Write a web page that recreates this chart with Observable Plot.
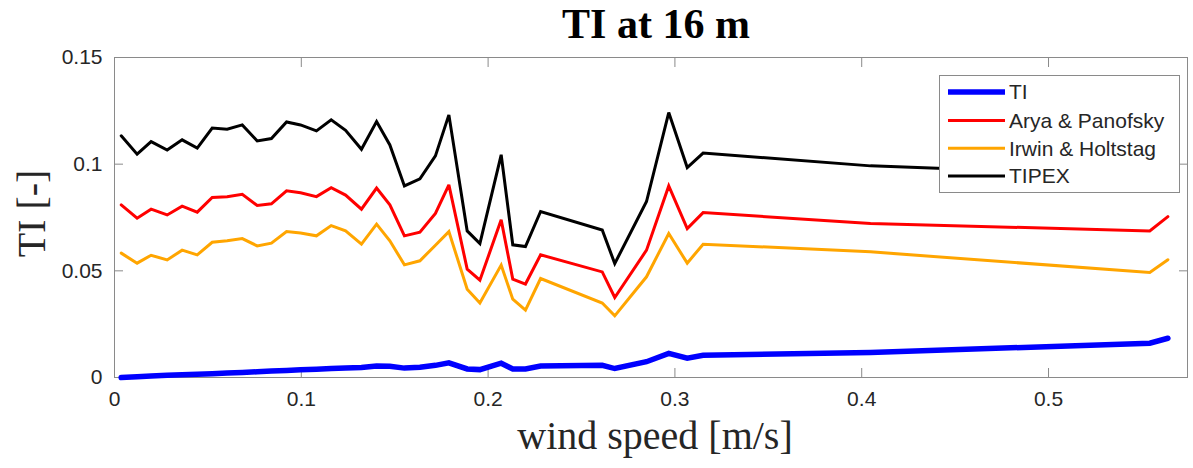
<!DOCTYPE html>
<html>
<head>
<meta charset="utf-8">
<script src="https://cdn.jsdelivr.net/npm/d3@7"></script>
<script src="https://cdn.jsdelivr.net/npm/@observablehq/plot@0.6"></script>
<style>
  body { margin: 0; background: #fff; }
  #chart svg { display: block; }
</style>
</head>
<body>
<div id="chart"></div>
<script>
const titleText = "TI at 16 m";
const xLabelText = "wind speed [m/s]";
const yLabelText = "TI [-]";

const xTicks = [0, 0.1, 0.2, 0.3, 0.4, 0.5];
const yTicks = [0, 0.05, 0.1, 0.15];

const windSpeed = [0.0036,0.0121,0.0196,0.0282,0.0362,0.0443,0.0523,0.0603,0.0684,0.0764,0.0840,0.0921,0.0996,0.1081,0.1160,0.1237,0.1322,0.1403,0.1474,0.1552,0.1635,0.1718,0.1790,0.1888,0.1956,0.2070,0.2132,0.2200,0.2281,0.2611,0.2678,0.2848,0.2967,0.3066,0.3151,0.4047,0.5542,0.5639];

const tiValues = [0.0000,0.0004,0.0007,0.0010,0.0013,0.0015,0.0018,0.0021,0.0024,0.0027,0.0030,0.0033,0.0036,0.0039,0.0042,0.0044,0.0047,0.0054,0.0053,0.0044,0.0048,0.0057,0.0069,0.0040,0.0037,0.0067,0.0040,0.0040,0.0054,0.0057,0.0042,0.0074,0.0113,0.0091,0.0104,0.0117,0.0161,0.0184];

const aryaValues = [0.0809,0.0747,0.0789,0.0762,0.0803,0.0775,0.0844,0.0847,0.0859,0.0806,0.0814,0.0875,0.0866,0.0848,0.0890,0.0855,0.0789,0.0888,0.0809,0.0664,0.0681,0.0769,0.0903,0.0508,0.0456,0.0739,0.0461,0.0438,0.0575,0.0495,0.0375,0.0597,0.0898,0.0698,0.0773,0.0722,0.0687,0.0754];

const irwinValues = [0.0583,0.0536,0.0573,0.0551,0.0597,0.0575,0.0634,0.0641,0.0651,0.0617,0.0630,0.0684,0.0677,0.0664,0.0712,0.0687,0.0625,0.0719,0.0641,0.0528,0.0547,0.0620,0.0684,0.0414,0.0349,0.0527,0.0367,0.0316,0.0464,0.0349,0.0289,0.0472,0.0675,0.0536,0.0625,0.0589,0.0492,0.0552];

const tipexValues = [0.1133,0.1047,0.1106,0.1066,0.1114,0.1075,0.1169,0.1164,0.1184,0.1109,0.1120,0.1198,0.1184,0.1156,0.1208,0.1159,0.1070,0.1200,0.1090,0.0898,0.0931,0.1039,0.1231,0.0687,0.0628,0.1044,0.0622,0.0614,0.0778,0.0691,0.0534,0.0825,0.1242,0.0984,0.1052,0.0992,0.0944,0.1036];

const seriesNames = ["TI", "Arya & Panofsky", "Irwin & Holtstag", "TIPEX"];
const seriesColors = ["#0000ff", "#ff0000", "#ffa500", "#000000"];
const seriesWidths = [5.5, 3, 3, 3];
const seriesValues = [tiValues, aryaValues, irwinValues, tipexValues];

const axisGray = "#8a8a8a";
const textDark = "#262626";
const serif = "'Liberation Serif', 'Times New Roman', serif";
const sans = "'Liberation Sans', Arial, sans-serif";

const lineMarks = seriesNames.map((name, i) => {
  const rows = windSpeed.map((s, j) => ({speed: s, value: seriesValues[i][j], series: name}));
  return Plot.line(rows, {x: "speed", y: "value", stroke: seriesColors[i], strokeWidth: seriesWidths[i], strokeLinejoin: "miter", strokeMiterlimit: 3});
});

const fmt = d => String(d);

const chart = Plot.plot({
  width: 1193,
  height: 468,
  marginLeft: 114,
  marginRight: 6,
  marginTop: 57,
  marginBottom: 91,
  style: {fontFamily: sans, background: "white", overflow: "visible"},
  x: {domain: [0, 0.5744]},
  y: {domain: [0, 0.15]},
  marks: [
    Plot.frame({stroke: axisGray}),
    Plot.axisX(xTicks, {anchor: "bottom", tickSize: 0, tickPadding: 14, tickFormat: fmt, fontSize: 21, color: textDark, label: null}),
    Plot.axisX(xTicks, {anchor: "bottom", tickSize: 9, dy: -9, tickFormat: () => "", color: axisGray, label: null}),
    Plot.axisX(xTicks, {anchor: "top", tickSize: 9, dy: 9, tickFormat: () => "", color: axisGray, label: null}),
    Plot.axisY(yTicks, {anchor: "left", tickSize: 0, tickPadding: 12, tickFormat: fmt, fontSize: 21, color: textDark, label: null}),
    Plot.axisY(yTicks, {anchor: "left", tickSize: 9, dx: 9, tickFormat: () => "", color: axisGray, label: null}),
    Plot.axisY(yTicks, {anchor: "right", tickSize: 9, dx: -9, tickFormat: () => "", color: axisGray, label: null}),
    ...lineMarks,
    Plot.text([titleText], {frameAnchor: "top", lineAnchor: "middle", textAnchor: "middle", dy: -33, dx: 5, fontSize: 42, fontWeight: "bold", fontFamily: serif, fill: "#000"}),
    Plot.text([xLabelText], {frameAnchor: "bottom", lineAnchor: "middle", textAnchor: "middle", dy: 59, dx: 4, fontSize: 40, fontFamily: serif, fill: textDark}),
    Plot.text([yLabelText], {frameAnchor: "left", lineAnchor: "middle", textAnchor: "middle", dx: -82, dy: -4, rotate: -90, fontSize: 40, fontFamily: serif, fill: textDark})
  ]
});

document.getElementById("chart").appendChild(chart);

// Legend (drawn on top, white box like MATLAB)
const svg = d3.select(chart);
const lg = svg.append("g").attr("class", "legend").attr("text-anchor", "start");
lg.append("rect")
  .attr("x", 939.5).attr("y", 75.5).attr("width", 240).attr("height", 117)
  .attr("fill", "white").attr("stroke", axisGray).attr("stroke-width", 1);
const rowY = [92, 120.5, 148.3, 176];
seriesNames.forEach((name, i) => {
  lg.append("line")
    .attr("x1", 948).attr("x2", 1005).attr("y1", rowY[i]).attr("y2", rowY[i])
    .attr("stroke", seriesColors[i]).attr("stroke-width", seriesWidths[i]);
  lg.append("text")
    .attr("x", 1009).attr("y", rowY[i]).attr("dy", "0.35em")
    .attr("text-anchor", "start")
    .attr("font-size", 21).attr("fill", textDark)
    .attr("font-family", sans)
    .text(name);
});
</script>
</body>
</html>
